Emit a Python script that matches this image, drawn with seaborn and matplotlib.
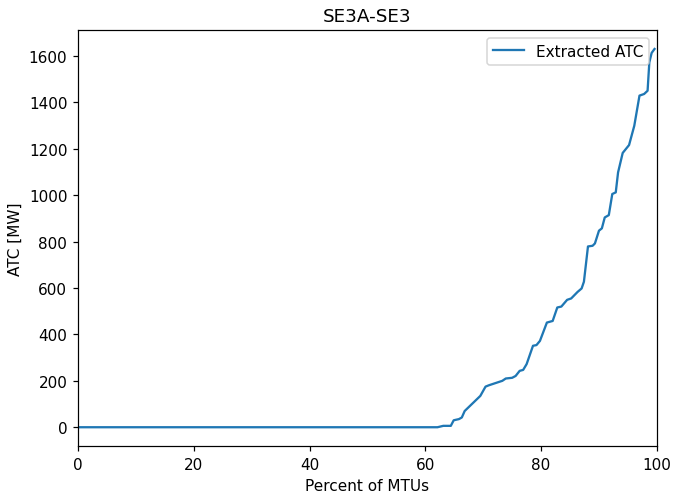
import numpy as np
import matplotlib
matplotlib.use("Agg")
import matplotlib.pyplot as plt
import seaborn as sns
import pandas as pd

# duration curve
pct = [0, 62.1, 63.1, 64.4, 64.9, 65.8, 66.3, 66.8, 69.5, 70.4, 71.0, 73.3, 73.9,
       75.0, 75.6, 76.3, 76.9, 77.5, 78.6, 79.2, 79.8, 81.0, 82.0, 82.8, 83.5,
       84.5, 85.2, 86.3, 87.0, 87.4, 88.1, 88.9, 89.3, 90.0, 90.5, 91.0, 91.7,
       92.3, 92.9, 93.3, 94.1, 95.2, 96.1, 97.0, 97.8, 98.4, 98.7, 99.1, 99.6]
atc = [0, 0, 6, 6, 30, 35, 42, 70, 135, 175, 181, 200, 210,
       213, 221, 243, 247, 272, 351, 354, 372, 451, 458, 516, 520,
       549, 555, 583, 598, 627, 779, 782, 792, 847, 857, 904, 914,
       1005, 1012, 1098, 1182, 1216, 1299, 1429, 1436, 1450, 1572, 1613, 1630]

df = pd.DataFrame({"Percent of MTUs": pct, "ATC [MW]": atc})

dpi = 110
fig = plt.figure(figsize=(673 / dpi, 493 / dpi), dpi=dpi)
ax = fig.add_axes([0.116, 0.093, 0.86, 0.844])

sns.lineplot(data=df, x="Percent of MTUs", y="ATC [MW]", color="#1f77b4",
             label="Extracted ATC", ax=ax)

ax.set_xlim(0, 100)
ax.set_title("SE3A-SE3")
ax.legend(loc="upper right")

plt.savefig("out.png", dpi=dpi)
